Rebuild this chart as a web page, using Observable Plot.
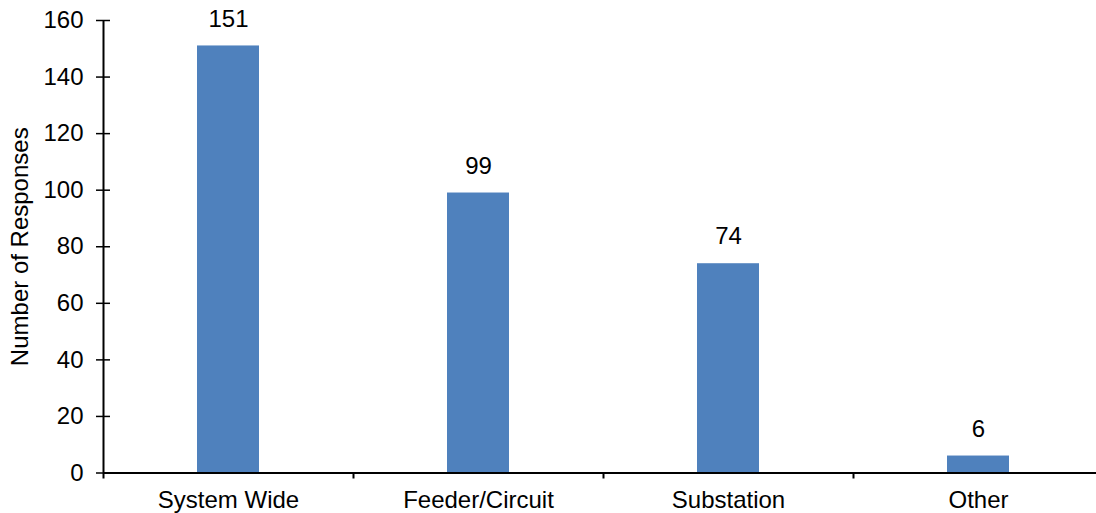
<!DOCTYPE html>
<html>
<head>
<meta charset="utf-8">
<script src="https://cdn.jsdelivr.net/npm/d3@7"></script>
<script src="https://cdn.jsdelivr.net/npm/@observablehq/plot@0.6"></script>
<style>
  html, body { margin: 0; padding: 0; background: #fff; }
  #chart svg { display: block; }
</style>
</head>
<body>
<div id="chart"></div>
<script>
const categories = ["System Wide", "Feeder/Circuit", "Substation", "Other"];
const responses = [151, 99, 74, 6];
const yTicks = [0, 20, 40, 60, 80, 100, 120, 140, 160];
const boundaries = [0, 1, 2, 3, 4];

const data = categories.map((c, i) => ({category: c, i, value: responses[i]}));

const font = "'Liberation Sans', Arial, sans-serif";
const fs = 24;
const chart = Plot.plot({
  width: 1096,
  height: 513,
  marginTop: 20,
  marginBottom: 40.5,
  marginLeft: 103,
  marginRight: 0,
  style: {fontFamily: font, fontSize: fs + "px", color: "#000", background: "#fff"},
  x: {type: "linear", domain: [0, 4], range: [103, 1103], axis: null},
  y: {type: "linear", domain: [0, 160], axis: null},
  marks: [
    Plot.rectY(data, {x1: "i", x2: d => d.i + 1, y1: 0, y2: "value", fill: "#4F81BD", insetLeft: 94, insetRight: 94}),
    Plot.text(data, {x: d => d.i + 0.5, y: "value", text: d => String(d.value), dy: -27, fontSize: fs, fill: "#000"}),
    Plot.axisY({ticks: yTicks, tickSize: 7, tickPadding: 13, tickFormat: d => String(d), stroke: "#000", strokeWidth: 1.5, fontSize: fs, label: "Number of Responses", labelAnchor: "center", labelArrow: "none", labelOffset: 93}),
    Plot.axisY({ticks: yTicks, tickSize: -7, text: null, label: null, stroke: "#000", strokeWidth: 1.5}),
    Plot.ruleX([0], {stroke: "#000", strokeWidth: 2}),
    Plot.ruleY([0], {stroke: "#000", strokeWidth: 2}),
    Plot.axisX({ticks: boundaries, tickSize: 6, text: null, label: null, stroke: "#000", strokeWidth: 2}),
    Plot.text(data, {x: d => d.i + 0.5, y: 0, text: "category", dy: 27, fontSize: fs, fill: "#000"})
  ]
});
document.getElementById("chart").appendChild(chart);
</script>
</body>
</html>
